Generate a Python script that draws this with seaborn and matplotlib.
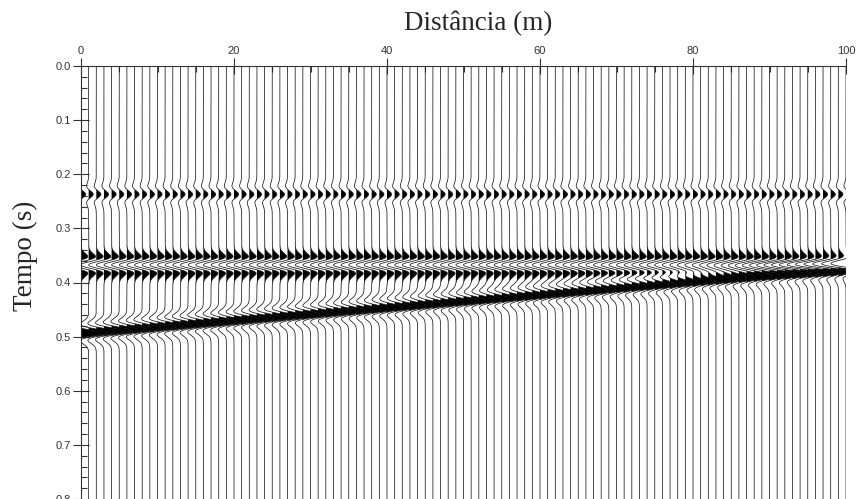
import numpy as np
import pandas as pd
import matplotlib
matplotlib.use("Agg")
import matplotlib.pyplot as plt
from matplotlib.ticker import MultipleLocator
import seaborn as sns

# ---- data ----
trace_offsets = list(range(0, 101))          # receiver positions (m), 1 m spacing
event_t_at_0 = [0.237, 0.3675, 0.4935]       # arrival time at x = 0 m (s)
event_t_at_100 = [0.237, 0.3675, 0.375]      # arrival time at x = 100 m (s)
event_amp_at_0 = [0.6, -2.0, 2.5]            # wiggle amplitude at x = 0 m (metres of deflection)
event_amp_at_100 = [0.6, -2.0, 1.6]          # wiggle amplitude at x = 100 m
peak_freq = 25.0                             # Ricker peak frequency (Hz)
x_ticks = [0, 20, 40, 60, 80, 100]
y_ticks = [0.0, 0.1, 0.2, 0.3, 0.4, 0.5, 0.6, 0.7, 0.8]
title_text = "Distância (m)"
ylabel_text = "Tempo (s)"

t = np.arange(0.0, 0.8201, 0.0005)


def ricker(tt, f):
    a = (np.pi * f * tt) ** 2
    return (1 - 2 * a) * np.exp(-a)


rows = []
wiggles = {}
for x0 in trace_offsets:
    w = np.zeros_like(t)
    for t0, t1, a0, a1 in zip(event_t_at_0, event_t_at_100,
                              event_amp_at_0, event_amp_at_100):
        frac = x0 / 100.0
        tarr = t0 + (t1 - t0) * frac
        amp = a0 + (a1 - a0) * frac
        w += amp * ricker(t - tarr, peak_freq)
    wiggles[x0] = w
    rows.append(pd.DataFrame({"trace": x0, "x": x0 + w, "t": t}))
df = pd.concat(rows, ignore_index=True)

sns.set_style("ticks")
plt.rcParams["font.family"] = ["Liberation Sans", "DejaVu Sans"]

fig = plt.figure(figsize=(8.56, 4.99), dpi=100)
ax = fig.add_axes([81 / 856, 0.0, (846 - 81) / 856, 1 - 66 / 499])

sns.lineplot(data=df, x="x", y="t", units="trace", estimator=None, sort=False,
             color="#1a1a1a", linewidth=0.55, ax=ax, legend=False)
for x0 in trace_offsets:
    w = wiggles[x0]
    ax.fill_betweenx(t, x0, x0 + w, where=w > 0, color="black", linewidth=0,
                     interpolate=True)

ax.set_xlim(0, 100)
ax.set_ylim(0.8, 0.0)
ax.set_xticks(x_ticks)
ax.set_yticks(y_ticks)
ax.set_xticklabels([str(v) for v in x_ticks])
ax.set_yticklabels([f"{v:.1f}" for v in y_ticks])
ax.xaxis.set_minor_locator(MultipleLocator(5))
ax.yaxis.set_minor_locator(MultipleLocator(0.02))
ax.xaxis.tick_top()
ax.tick_params(axis="x", which="major", direction="inout", length=12, width=0.8,
               top=True, bottom=False, labelsize=8, pad=1, colors="#333333")
ax.tick_params(axis="x", which="minor", direction="in", length=4, width=0.8,
               top=True, bottom=False, colors="#333333")
ax.tick_params(axis="y", which="major", direction="inout", length=12, width=0.8,
               labelsize=8, pad=1, colors="#333333")
ax.tick_params(axis="y", which="minor", direction="in", length=4, width=0.8,
               colors="#333333")
for s in ["right", "bottom"]:
    ax.spines[s].set_visible(False)
for s in ["top", "left"]:
    ax.spines[s].set_linewidth(0.8)
    ax.spines[s].set_color("#333333")
ax.set_xlabel("")
ax.set_ylabel("")

fig.text(478 / 856, 1 - 23 / 499, title_text, ha="center", va="center",
         fontsize=19.5, family=["Liberation Serif", "DejaVu Serif"])
fig.text(25 / 856, 1 - 256 / 499, ylabel_text, ha="center", va="center",
         rotation=90, fontsize=19.5, family=["Liberation Serif", "DejaVu Serif"])

fig.savefig("out.png", dpi=100)
